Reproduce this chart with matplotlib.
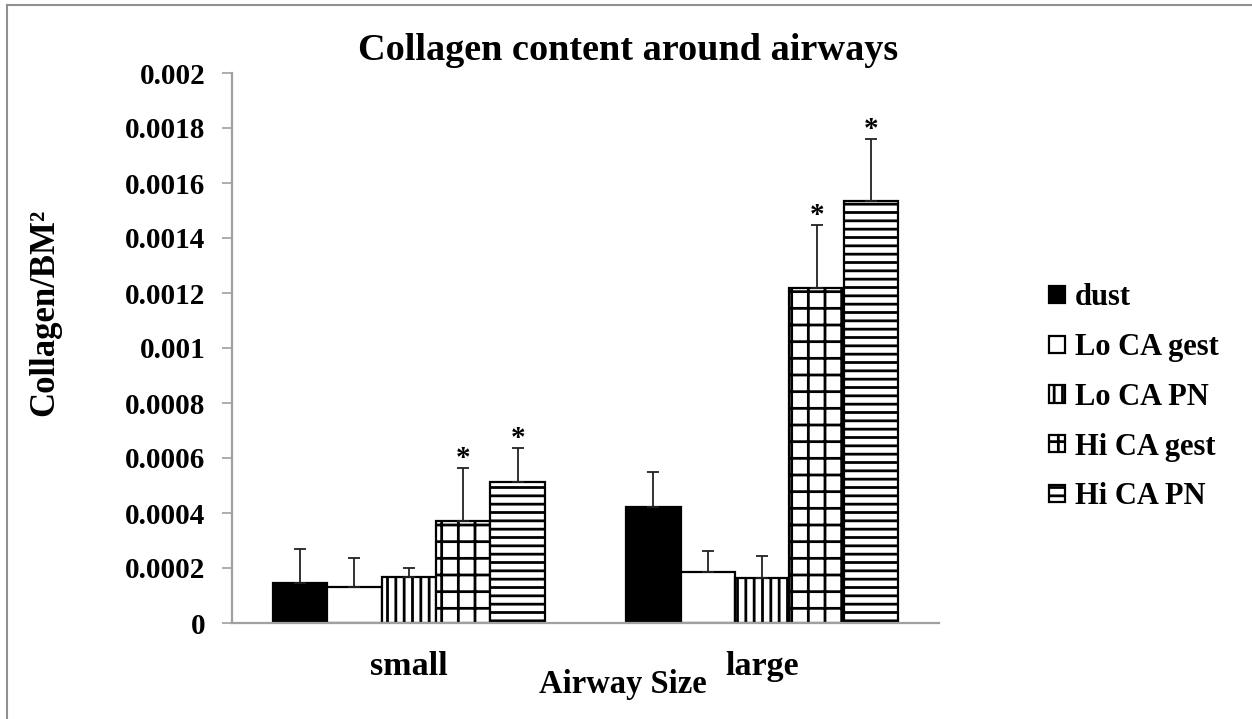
import numpy as np
import matplotlib
matplotlib.use("Agg")
import matplotlib.pyplot as plt
from matplotlib.lines import Line2D

# Data
categories = ["small", "large"]
series = ["dust", "Lo CA gest", "Lo CA PN", "Hi CA gest", "Hi CA PN"]
means = {
    "dust":       [0.000145, 0.000423],
    "Lo CA gest": [0.000131, 0.000185],
    "Lo CA PN":   [0.000167, 0.000164],
    "Hi CA gest": [0.000371, 0.001218],
    "Hi CA PN":   [0.000513, 0.001536],
}
errors = {
    "dust":       [0.000124, 0.000126],
    "Lo CA gest": [0.000105, 0.000076],
    "Lo CA PN":   [0.000033, 0.000080],
    "Hi CA gest": [0.000193, 0.000229],
    "Hi CA PN":   [0.000123, 0.000223],
}
significant = {
    "dust":       [False, False],
    "Lo CA gest": [False, False],
    "Lo CA PN":   [False, False],
    "Hi CA gest": [True, True],
    "Hi CA PN":   [True, True],
}
yticks = [0, 0.0002, 0.0004, 0.0006, 0.0008, 0.001, 0.0012, 0.0014, 0.0016, 0.0018, 0.002]
ytick_labels = ["0", "0.0002", "0.0004", "0.0006", "0.0008", "0.001",
                "0.0012", "0.0014", "0.0016", "0.0018", "0.002"]

# Styles
styles = {
    "dust":       dict(facecolor="black", hatch=None),
    "Lo CA gest": dict(facecolor="white", hatch=None),
    "Lo CA PN":   dict(facecolor="white", hatch="||"),
    "Hi CA gest": dict(facecolor="white", hatch="+"),
    "Hi CA PN":   dict(facecolor="white", hatch="--"),
}

plt.rcParams["font.family"] = ["Liberation Serif", "DejaVu Serif"]
plt.rcParams["font.weight"] = "bold"
plt.rcParams["hatch.linewidth"] = 2.0
plt.rcParams["hatch.color"] = "black"

W, H = 1252, 719
fig = plt.figure(figsize=(W / 100, H / 100), dpi=100)
ax = fig.add_axes([232 / W, (H - 623) / H, (939 - 232) / W, 550 / H])

x = np.arange(len(categories))
group_w = 0.77
bw = group_w / len(series)
axis_grey = "#a0a0a0"

handles = []
for i, s in enumerate(series):
    pos = x - group_w / 2 + bw * (i + 0.5)
    st = styles[s]
    bars = ax.bar(pos, means[s], width=bw, facecolor=st["facecolor"],
                  edgecolor="black", linewidth=1.6, hatch=st["hatch"], zorder=2)
    ax.errorbar(pos, means[s], yerr=[np.zeros(len(categories)), errors[s]],
                fmt="none", ecolor="#222222", elinewidth=1.3, capsize=4.5,
                capthick=1.3, zorder=3)
    for p, m, e, sig in zip(pos, means[s], errors[s], significant[s]):
        if sig:
            ax.annotate("*", (p, m + e), xytext=(0, -3), textcoords="offset points",
                        ha="center", va="bottom", fontsize=21, fontweight="bold")
    handles.append(bars[0])

ax.set_xlim(-0.5, 1.5)
ax.set_ylim(0, 0.002)
ax.set_yticks(yticks)
ax.set_yticklabels(ytick_labels)
ax.set_xticks(x)
ax.set_xticklabels(categories)
ax.tick_params(axis="y", length=7, width=1.2, color=axis_grey, labelsize=21, pad=12)
ax.tick_params(axis="x", length=0, labelsize=24.5, pad=20)
for lab in ax.get_xticklabels() + ax.get_yticklabels():
    lab.set_fontweight("bold")
for side in ("top", "right"):
    ax.spines[side].set_visible(False)
for side in ("left", "bottom"):
    ax.spines[side].set_color(axis_grey)
    ax.spines[side].set_linewidth(1.6)

fig.text(628 / W, 1 - 50 / H, "Collagen content around airways", ha="center",
         va="center", fontsize=27.5, fontweight="bold")
fig.text(623 / W, 1 - 684 / H, "Airway Size", ha="center", va="center",
         fontsize=23.5, fontweight="bold")
fig.text(45 / W, 1 - 312 / H, "Collagen/BM²", ha="center", va="center",
         rotation=90, fontsize=25, fontweight="bold")

leg = fig.legend(handles, series, loc="upper left",
                 bbox_to_anchor=(1034 / W, 1 - 268 / H), frameon=False,
                 handlelength=0.5, handleheight=0.5, handletextpad=0.35,
                 labelspacing=0.68, borderpad=0.0,
                 prop=dict(size=22, weight="bold"))

# Chart frame
fig.add_artist(Line2D([7 / W, 1], [1 - 4.5 / H, 1 - 4.5 / H], color="#909090", lw=1.5,
                      transform=fig.transFigure))
fig.add_artist(Line2D([7 / W, 7 / W], [0, 1 - 4.5 / H], color="#909090", lw=1.5,
                      transform=fig.transFigure))

fig.savefig("out.png", dpi=100)
